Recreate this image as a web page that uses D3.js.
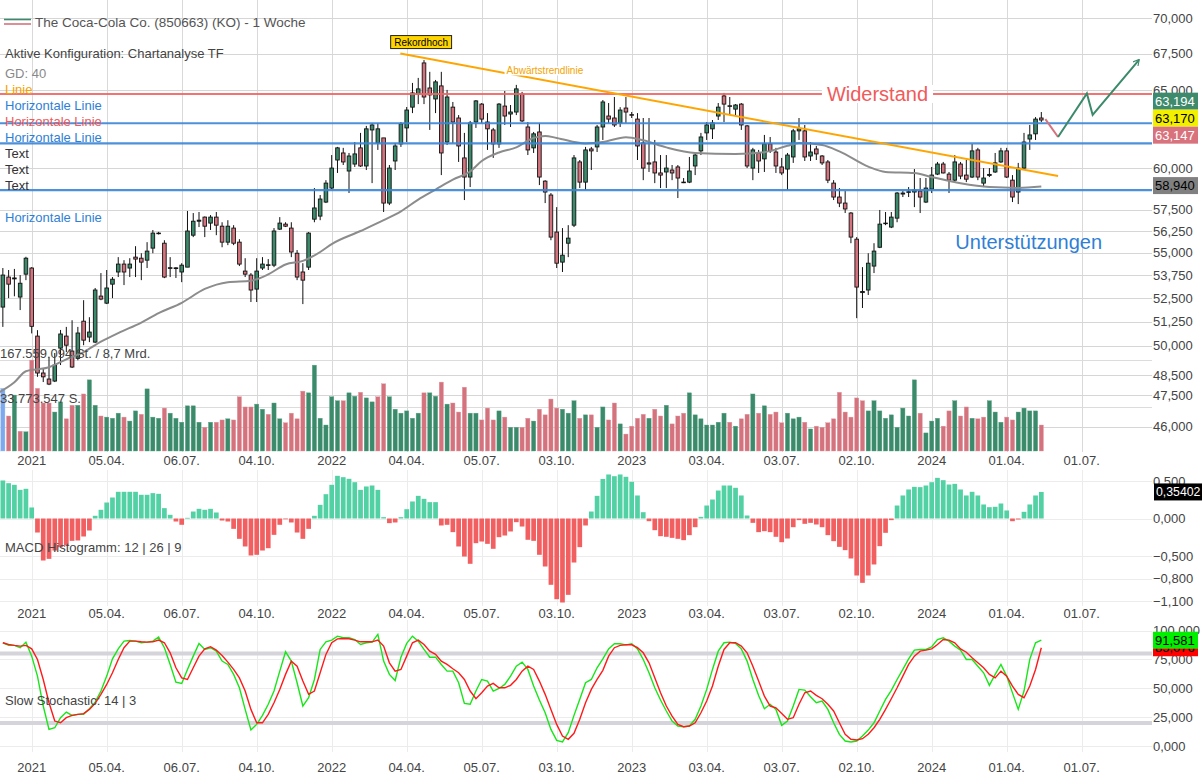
<!DOCTYPE html>
<html><head><meta charset="utf-8">
<script src="https://cdn.jsdelivr.net/npm/d3@7"></script>
<style>
html,body{margin:0;padding:0;background:#fff;}
svg{display:block;font-family:"Liberation Sans",Arial,Helvetica,sans-serif;}
</style></head><body>
<svg id="c" width="1203" height="774"></svg>
<script>
// ---------------- DATA ----------------
const firstWeek = "2020-11-30"; // weekly candles, one per Monday
const lastWeek  = "2024-05-13";

const open = [
52.02,53.65,53.55,52.56,53.81,54.15,50.49,48.61,48.31,48.21,
49.87,50.49,49.72,49.35,51.27,50.44,50.18,52.61,52.23,53.26,
53.93,54.37,54.15,54.76,54.70,54.59,55.27,56.10,55.55,54.17,
54.12,53.93,54.20,56.01,56.82,57.06,56.71,57.06,56.53,55.61,
56.42,55.61,53.98,53.76,52.99,54.15,54.31,54.31,56.36,56.65,
56.42,54.98,53.93,54.20,56.94,57.12,57.95,58.79,60.51,60.95,
59.83,60.26,61.27,60.14,62.41,61.58,61.90,57.89,60.45,61.52,
62.54,63.89,64.76,66.86,65.16,64.43,65.30,61.64,63.89,63.18,
60.64,59.46,62.92,64.09,62.92,62.41,61.52,63.96,63.44,63.57,
64.76,62.60,61.27,62.28,59.21,58.37,56.19,54.48,55.55,56.59,
60.39,59.15,61.20,61.33,62.60,63.31,63.18,62.86,63.83,63.40,
63.11,61.58,60.33,60.39,59.71,59.77,59.89,60.08,59.15,59.15,
60.14,61.08,62.22,62.48,63.31,64.63,63.98,63.76,64.09,62.67,
60.01,60.95,60.58,61.52,61.01,60.08,59.95,60.70,62.35,62.35,
60.76,61.20,60.76,60.39,59.09,58.25,57.89,57.30,55.78,52.80,
52.94,54.26,55.32,56.68,56.48,57.00,58.43,58.53,58.55,58.61,
57.95,58.73,59.64,60.26,59.64,59.27,60.26,59.58,59.46,61.14,
59.09,59.56,59.77,60.39,61.08,59.27,58.55,60.01,61.83,62.16,63.18];
const high = [
54.15,54.04,54.10,53.76,54.78,54.20,50.80,48.85,49.40,49.62,
50.81,50.97,51.32,50.97,52.39,51.48,53.05,53.87,54.04,53.65,
54.76,54.59,54.70,55.38,54.98,55.61,56.31,56.20,55.72,54.76,
54.20,54.42,57.42,57.30,57.36,57.10,57.18,57.36,56.76,56.88,
56.59,55.78,54.70,53.87,54.70,54.76,54.65,56.42,57.06,56.76,
56.76,55.16,54.42,56.19,58.79,58.37,59.27,60.82,61.33,61.27,
60.95,61.64,62.22,62.67,62.86,62.86,61.90,60.20,61.58,62.92,
63.90,65.50,65.84,67.06,66.25,65.70,66.25,65.03,64.23,63.37,
62.22,62.99,64.36,64.16,63.50,62.54,64.16,64.96,64.03,65.37,
64.90,62.92,62.28,62.86,59.27,58.49,57.65,56.42,56.59,60.82,
60.51,61.33,61.33,62.73,64.36,64.16,64.56,63.89,64.56,63.57,
63.50,63.18,63.18,61.77,60.82,60.82,60.20,60.20,59.40,60.70,
60.95,62.22,62.92,63.05,64.16,64.83,64.56,64.09,64.16,62.73,
61.27,61.14,62.09,61.96,61.27,60.64,60.95,62.48,63.18,62.73,
61.64,61.39,60.82,60.51,59.27,58.79,58.61,57.36,55.90,54.20,
54.98,55.55,57.48,57.36,57.36,58.55,58.61,58.85,59.95,59.40,
59.40,60.08,60.39,60.39,59.77,60.82,60.39,60.51,61.52,61.27,
60.01,60.01,60.95,61.27,61.27,59.58,60.33,62.22,62.73,63.24,63.57];
const low = [
50.97,52.50,52.60,51.86,53.48,50.63,48.42,48.16,48.01,48.16,
49.01,49.67,48.86,49.25,50.02,50.18,50.13,52.39,52.18,52.50,
53.65,53.21,53.65,53.65,53.48,54.15,54.98,56.05,53.59,53.65,
53.60,53.37,54.20,55.90,56.48,55.90,56.31,56.01,55.32,55.44,
55.44,54.26,53.65,52.29,52.29,54.04,54.04,54.20,56.31,56.48,
54.76,53.48,52.18,54.04,56.76,56.88,57.89,58.73,59.71,60.20,
58.49,60.08,60.08,59.89,59.09,61.14,57.36,57.77,59.89,61.33,
61.64,63.50,64.09,64.09,62.41,63.50,59.58,61.45,61.58,60.39,
58.07,58.85,62.54,62.86,61.14,60.64,61.27,62.73,62.60,63.37,
62.92,60.82,60.95,58.97,57.89,55.72,54.15,53.93,54.76,56.48,
58.79,58.67,59.89,61.01,61.77,62.86,62.60,62.60,62.86,63.18,
60.51,59.27,59.77,59.09,58.79,58.79,59.27,58.19,59.09,59.09,
59.58,60.82,61.77,61.83,63.05,62.92,63.37,63.37,62.41,60.01,
59.27,59.71,59.77,60.95,59.71,59.58,58.67,60.33,61.77,60.45,
60.45,60.51,60.20,59.09,58.07,57.65,57.30,55.55,51.43,51.97,
52.67,53.87,55.27,56.59,56.42,56.76,58.25,58.25,57.65,57.30,
57.89,58.49,59.58,59.68,58.49,59.15,59.33,59.15,59.40,59.27,
58.85,59.46,59.71,60.33,59.40,57.95,57.83,59.89,61.14,61.77,62.92];
const close = [
53.76,53.26,53.60,53.31,54.70,51.00,48.61,48.42,48.06,49.01,
50.60,50.02,48.91,50.65,50.28,50.70,52.94,52.45,53.05,53.53,
54.37,53.93,54.37,54.65,54.48,55.10,56.13,56.13,53.65,54.13,
54.16,54.31,56.25,56.82,56.88,56.53,57.06,56.59,55.61,56.53,
55.55,54.37,53.81,52.94,53.98,54.37,54.33,56.25,56.71,56.53,
55.05,53.65,53.48,56.13,57.60,58.13,59.09,60.01,61.27,60.39,
60.76,60.89,60.14,62.48,62.73,62.48,57.89,60.01,61.39,62.80,
63.70,64.83,65.10,64.56,64.70,65.57,60.95,64.56,62.92,61.39,
59.46,62.86,64.30,63.11,62.48,61.52,64.09,63.31,63.57,65.10,
62.99,61.14,62.16,59.46,58.55,55.90,54.42,54.87,55.84,60.64,
59.15,61.14,61.08,62.60,64.23,63.11,62.73,63.70,63.57,63.37,
61.39,60.01,60.26,59.71,59.58,60.01,59.71,59.40,59.12,59.83,
60.82,61.96,62.73,62.86,63.89,64.09,63.94,64.03,62.73,60.14,
61.14,60.45,61.52,61.08,60.14,59.71,60.82,62.35,62.48,60.70,
61.01,60.89,60.33,59.27,58.25,57.89,57.54,55.90,53.10,52.86,
54.42,55.10,56.65,56.71,57.06,58.49,58.49,58.57,58.67,58.25,
58.79,59.58,60.26,59.71,59.27,60.39,59.52,59.33,61.08,59.46,
59.40,59.62,60.33,61.08,59.46,58.25,60.01,61.64,62.09,63.11,63.05];
// volume in millions of shares
const volume = [
111,62,99,35,34,161,111,85,85,69,
87,57,81,81,101,126,81,62,60,58,
67,60,53,71,65,110,60,58,76,67,
58,51,80,80,51,42,51,51,55,57,
55,96,78,78,83,74,65,85,57,50,
67,57,106,103,152,58,46,96,89,89,
103,97,104,94,87,96,119,96,74,67,
71,58,67,103,103,97,122,83,85,69,
113,67,67,55,76,55,71,60,42,42,
42,58,53,74,64,92,76,74,67,89,
58,64,64,42,78,55,85,48,30,44,
58,65,58,74,62,81,48,62,67,103,
64,57,46,46,51,67,51,44,57,65,
101,67,80,65,69,50,67,57,60,51,
39,44,42,50,57,104,69,60,94,89,
71,89,71,58,64,42,76,62,126,67,
32,53,58,44,71,89,62,78,58,57,
60,89,69,51,60,55,69,76,71,71,46];
const macdHist = [
0.507,0.471,0.449,0.382,0.396,0.147,-0.187,-0.56,-0.538,-0.427,
-0.382,-0.36,-0.298,-0.293,-0.24,-0.16,0.036,0.116,0.213,0.28,
0.356,0.356,0.356,0.356,0.316,0.316,0.338,0.329,0.138,0.049,
-0.04,-0.084,0.009,0.093,0.129,0.116,0.129,0.08,-0.027,-0.04,
-0.138,-0.271,-0.373,-0.493,-0.484,-0.427,-0.396,-0.218,-0.084,-0.005,
-0.053,-0.187,-0.271,-0.138,0.036,0.182,0.324,0.449,0.569,0.551,
0.529,0.484,0.382,0.427,0.44,0.382,0.018,-0.062,-0.053,0.018,
0.124,0.227,0.302,0.262,0.218,0.218,-0.093,-0.084,-0.182,-0.373,
-0.507,-0.604,-0.329,-0.307,-0.338,-0.404,-0.249,-0.227,-0.173,-0.049,
-0.107,-0.284,-0.298,-0.484,-0.64,-0.884,-1.076,-1.12,-1.018,-0.587,
-0.382,-0.093,0.093,0.302,0.527,0.587,0.564,0.587,0.556,0.489,
0.307,0.084,-0.036,-0.156,-0.236,-0.244,-0.258,-0.271,-0.289,-0.222,
-0.116,0.022,0.173,0.253,0.373,0.44,0.44,0.409,0.307,0.04,
-0.058,-0.182,-0.169,-0.182,-0.244,-0.316,-0.267,-0.116,-0.022,-0.071,
-0.058,-0.08,-0.116,-0.222,-0.302,-0.378,-0.422,-0.533,-0.76,-0.858,
-0.76,-0.613,-0.369,-0.191,-0.022,0.173,0.307,0.387,0.422,0.418,
0.44,0.484,0.542,0.511,0.453,0.462,0.387,0.307,0.356,0.307,
0.187,0.151,0.156,0.2,0.107,-0.036,-0.013,0.089,0.187,0.307,0.354];
const stochK = [
89.4,87.1,87.1,85.1,89.9,77.8,60.5,34.6,14.4,15.8,
24.5,29.4,26.5,27.4,27.4,32.3,38.0,47.6,60.5,75.5,
84.1,90.8,91.4,90.8,89.4,89.9,90.8,94.3,85.1,70.6,
55.3,54.2,66.3,77.8,88.8,83.6,85.1,82.1,73.5,70.6,
62.0,50.4,31.7,13.9,18.7,26.5,36.1,47.6,64.8,81.6,
73.5,54.8,34.6,41.8,57.6,83.6,90.2,91.7,95.1,93.7,
93.7,92.2,87.9,89.4,89.9,96.6,73.5,62.0,56.7,76.9,
88.8,95.1,90.8,83.6,76.9,76.9,70.6,64.8,64.8,54.8,
36.9,36.1,47.6,57.6,56.2,47.6,49.8,53.3,60.5,69.1,
72.6,66.3,51.9,39.8,28.8,14.4,4.9,3.5,11.6,26.5,
40.4,54.8,57.6,67.7,75.5,84.1,88.5,88.5,87.6,88.5,
84.1,74.9,63.4,50.4,39.8,30.3,21.6,17.3,16.7,17.3,
23.1,34.6,49.0,66.3,82.1,89.4,89.9,88.8,84.1,73.5,
57.6,43.8,32.3,36.1,31.7,17.9,21.6,34.6,49.0,48.4,
42.7,37.5,38.9,31.7,20.1,10.1,4.3,3.5,4.3,8.6,
13.8,20.1,30.3,40.4,48.1,57.6,66.3,75.5,83.0,83.6,
83.6,85.9,92.2,93.7,90.8,86.5,83.0,74.9,74.9,69.1,
63.4,52.5,62.0,70.6,60.5,46.0,31.7,47.6,75.0,89.4,91.6];
const stochD = [
89.4,87.9,87.1,86.5,87.1,84.1,74.9,57.6,37.5,21.6,
20.1,24.5,26.5,27.4,28.0,31.7,36.9,44.7,53.3,63.4,
74.9,85.1,90.8,90.8,90.2,89.9,90.2,91.7,89.4,80.7,
67.7,59.0,57.6,67.7,77.8,84.1,86.0,83.0,78.4,72.6,
66.3,59.0,47.6,31.7,20.1,20.1,27.4,37.5,49.0,62.0,
73.5,69.1,56.2,44.7,47.6,63.4,79.3,89.4,92.8,93.1,
92.8,91.7,90.2,90.2,90.2,91.7,86.5,72.0,64.8,66.3,
77.8,89.4,91.7,87.9,82.1,79.3,73.5,70.6,66.9,63.4,
57.6,47.6,40.9,46.1,51.9,54.2,50.4,50.4,52.5,57.6,
64.8,69.1,66.3,56.2,44.7,31.7,18.7,8.6,5.8,11.0,
23.1,37.5,49.0,57.6,65.5,77.8,85.1,87.1,87.6,87.6,
85.1,80.7,72.0,59.0,46.1,34.6,25.9,18.7,16.7,17.3,
20.1,28.8,38.9,51.9,69.1,83.6,89.4,89.4,86.5,80.7,
69.1,56.2,43.2,34.6,33.1,28.2,23.1,24.5,36.1,46.1,
47.6,43.8,40.9,36.1,30.3,20.1,10.1,5.8,5.2,6.3,
10.1,15.8,23.1,31.7,40.9,50.4,60.5,70.6,77.8,82.1,
83.0,84.1,87.9,92.2,91.7,89.4,84.1,81.2,76.4,72.0,
67.7,62.0,59.0,64.8,60.5,51.9,44.7,41.8,51.9,66.3,85.1];
// 40-week moving average (GD 40), sampled: week offset from firstWeek, value
const smaWeek  = [-1,2,4,8,11,14,17,20,24,27,31,35,39,43,46,49,52,55,57,62,66,69,72,75,78,81,83,86,89,92,94,96,101,104,108,111,115,120,127,132,136,138,142,145,150,153,158,161,166,171,176,180];
const smaValue = [47.6,48.15,48.7,48.9,49.3,49.67,50.2,50.65,51.2,51.7,52.25,53.0,53.37,53.45,53.8,54.35,54.55,55.05,55.5,56.25,56.88,57.4,58.1,58.7,59.3,59.8,60.45,60.98,61.3,61.9,62.03,61.9,61.55,61.64,61.95,61.75,61.3,60.95,60.89,61.0,61.4,61.58,61.45,61.05,60.1,59.77,59.7,59.46,59.08,58.85,58.8,58.88];

const priceTicks = [70,67.5,65,60,57.5,56.25,55,53.75,52.5,51.25,50,48.5,47.5,46];
const volumeGrid = [161,78];
const macdTicks  = [0.5,0,-0.5,-0.8,-1.1];
const stochTicks = [100,75,50,25,0];
const stochBands = [80,20];
const xTickDates  = ["2021-01-04","2021-04-05","2021-07-06","2021-10-04","2022-01-03","2022-04-04","2022-07-05","2022-10-03","2023-01-03","2023-04-03","2023-07-03","2023-10-02","2024-01-02","2024-04-01","2024-07-01"];
const xTickLabels = ["2021","05.04.","06.07.","04.10.","2022","04.04.","05.07.","03.10.","2023","03.04.","03.07.","02.10.","2024","01.04.","01.07."];

const resistanceLevel = 64.76;
const supportLevels = [62.84, 61.56, 58.66];
const trendLine = [[68.9, 67.51],[182.9, 59.52]];
const forecastDown = [[180.7, 63.11],[182.9, 61.96]];
const forecastUp = [[182.9, 61.96],[187.9, 64.80],[188.9, 63.38],[196.9, 67.06]];
const priceBoxes = [
  {v:63.194, txt:"63,194", bg:"#3d8a6c", fg:"#ffffff"},
  {v:63.170, txt:"63,170", bg:"#f2f000", fg:"#000000"},
  {v:63.147, txt:"63,147", bg:"#d8727c", fg:"#ffffff"}];
const smaBox = {v:58.940, txt:"58,940", bg:"#808080", fg:"#000000"};
const macdLast = 0.35402;
const stochLastK = 91.581, stochLastD = 85.076;

const legend = [
 {t:"Aktive Konfiguration: Chartanalyse TF", c:"#444"},
 {t:"GD: 40", c:"#888", gap:1},
 {t:"Linie", c:"#f5a300"},
 {t:"Horizontale Linie", c:"#2f7fd6"},
 {t:"Horizontale Linie", c:"#f05a5a"},
 {t:"Horizontale Linie", c:"#2f7fd6"},
 {t:"Text", c:"#333"},
 {t:"Text", c:"#333"},
 {t:"Text", c:"#333"},
 {t:"", c:"#333"},
 {t:"Horizontale Linie", c:"#2f7fd6"}];

// ---------------- SCALES ----------------
const svg = d3.select("#c");
const parse = d3.utcParse("%Y-%m-%d");
const t0 = parse(firstWeek);
const weeks = d3.utcMonday.range(t0, d3.utcDay.offset(parse(lastWeek),1));
const wk = k => new Date(t0.getTime() + k*7*864e5);
const x = d3.scaleUtc().domain([parse("2021-01-04"), parse("2024-07-01")]).range([31.7, 1081.7]);
const xk = k => x(wk(k));
const PW = 1152;
const y = d3.scaleLog().domain([46,70]).range([426.7,18.3]);
const yv = d3.scaleLinear().domain([0,170]).range([451,355]);
const ym = d3.scaleLinear().domain([-1.1,0.5]).range([601,481]);
const ys = d3.scaleLinear().domain([0,100]).range([746,630.5]);
const de = d3.formatLocale({decimal:",",thousands:".",grouping:[3],currency:["",""]});
const f3 = de.format(",.3f"), f5 = de.format(".5f");
const GREEN="#3b8a6b", RED="#d4737d";
const FONT=13;

const defs = svg.append("defs");
[["clipMain",0,0,PW,452],["clipMacd",0,468,PW,140],["clipSto",0,620,PW,134]].forEach(([id,a,b,w,h])=>{
  defs.append("clipPath").attr("id",id).append("rect").attr("x",a).attr("y",b).attr("width",w).attr("height",h);
});
defs.append("marker").attr("id","arr").attr("viewBox","0 0 10 10").attr("refX",8).attr("refY",5)
  .attr("markerWidth",7).attr("markerHeight",7).attr("orient","auto").attr("markerUnits","userSpaceOnUse")
  .append("path").attr("d","M0,0 L9,5 L0,10").attr("fill","none").attr("stroke",GREEN).attr("stroke-width",1.6);

const tickX = xTickDates.map(d=>x(d3.utcMonday.floor(parse(d))));

// ---------------- GRID ----------------
const grid = svg.append("g").attr("shape-rendering","crispEdges");
function vgrid(y1,y2,col){ grid.selectAll(null).data(tickX).join("line").attr("x1",d=>Math.round(d)+0.5).attr("x2",d=>Math.round(d)+0.5).attr("y1",y1).attr("y2",y2).attr("stroke",col); }
vgrid(0,452,"#d9d9d9"); vgrid(470,606,"#ececec"); vgrid(620,752,"#ececec");
grid.selectAll(null).data(priceTicks).join("line").attr("x1",0).attr("x2",PW).attr("y1",d=>Math.round(y(d))+0.5).attr("y2",d=>Math.round(y(d))+0.5).attr("stroke","#d6d6d6");
grid.selectAll(null).data(volumeGrid).join("line").attr("x1",0).attr("x2",PW).attr("y1",d=>Math.round(yv(d))+0.5).attr("y2",d=>Math.round(yv(d))+0.5).attr("stroke","#dcdcdc");
grid.selectAll(null).data(macdTicks).join("line").attr("x1",0).attr("x2",PW).attr("y1",d=>Math.round(ym(d))+0.5).attr("y2",d=>Math.round(ym(d))+0.5).attr("stroke","#ececec");
grid.selectAll(null).data(stochTicks).join("line").attr("x1",0).attr("x2",PW).attr("y1",d=>Math.round(ys(d))+0.5).attr("y2",d=>Math.round(ys(d))+0.5).attr("stroke","#ececec");

// ---------------- VOLUME ----------------
const main = svg.append("g").attr("clip-path","url(#clipMain)");
main.selectAll(null).data(volume).join("rect")
  .attr("x",(d,i)=>xk(i)-2.1).attr("width",4.2)
  .attr("y",d=>yv(d)).attr("height",d=>yv(0)-yv(d))
  .attr("fill",(d,i)=> i===0 ? "#7ea9ee" : (close[i]>=close[i-1]? GREEN : RED))
  .attr("stroke",(d,i)=> i===0 ? "#9fc0f3" : (close[i]>=close[i-1]? "#5aa486" : "#e09aa2")).attr("stroke-width",0.4);
svg.append("text").attr("x",0).attr("y",353).attr("dy","0.35em").attr("font-size",FONT).attr("fill","#444").text("167.559.094 St. / 8,7 Mrd.");
svg.append("text").attr("x",0).attr("y",398).attr("dy","0.35em").attr("font-size",FONT).attr("fill","#444").text("33.773.547 S.");

// ---------------- LEGEND ----------------
svg.append("line").attr("x1",4).attr("x2",31).attr("y1",19.5).attr("y2",19.5).attr("stroke",GREEN).attr("stroke-width",1.6);
svg.append("line").attr("x1",4).attr("x2",31).attr("y1",24).attr("y2",24).attr("stroke",RED).attr("stroke-width",1.6);
svg.append("text").attr("x",35).attr("y",22).attr("dy","0.35em").attr("font-size",FONT+0.5).attr("fill","#555").text("The Coca-Cola Co. (850663) (KO) - 1 Woche");
let ly = 53;
legend.forEach((d,i)=>{
  if(i===1) ly = 73; else if(i>1) ly += 16;
  svg.append("text").attr("x",5).attr("y",ly).attr("dy","0.35em").attr("font-size",FONT).attr("fill",d.c).text(d.t);
});

// ---------------- CANDLES ----------------
const cg = main.append("g");
cg.selectAll("line.w").data(close).join("line").attr("class","w")
  .attr("x1",(d,i)=>xk(i)).attr("x2",(d,i)=>xk(i))
  .attr("y1",(d,i)=>y(high[i])).attr("y2",(d,i)=>y(low[i])).attr("stroke","#111").attr("stroke-width",1);
cg.selectAll("rect.b").data(close).join("rect").attr("class","b")
  .attr("x",(d,i)=>xk(i)-1.8).attr("width",3.6)
  .attr("y",(d,i)=>y(Math.max(open[i],d)))
  .attr("height",(d,i)=>Math.max(0.6, Math.abs(y(open[i])-y(d))))
  .attr("fill",(d,i)=> d>=open[i]? GREEN : RED).attr("stroke","#111").attr("stroke-width",0.9);

// ---------------- SMA ----------------
main.append("path").datum(smaWeek.map((k,i)=>[k,smaValue[i]]))
  .attr("d", d3.line().x(d=>xk(d[0])).y(d=>y(d[1])).curve(d3.curveMonotoneX))
  .attr("fill","none").attr("stroke","#8c8c8c").attr("stroke-width",2);

// ---------------- HORIZONTAL LINES ----------------
const wid = {k:151.6, txt:"Widerstand"};
main.append("line").attr("x1",0).attr("x2",PW).attr("y1",y(resistanceLevel)).attr("y2",y(resistanceLevel)).attr("stroke","#f26464").attr("stroke-width",2).attr("opacity",0.9);
main.selectAll("line.s").data(supportLevels).join("line").attr("class","s")
  .attr("x1",0).attr("x2",PW).attr("y1",d=>y(d)).attr("y2",d=>y(d)).attr("stroke","#3a86d8").attr("stroke-width",2.2).attr("opacity",0.9);

// trend line
main.append("line").attr("x1",xk(trendLine[0][0])).attr("y1",y(trendLine[0][1])).attr("x2",xk(trendLine[1][0])).attr("y2",y(trendLine[1][1]))
  .attr("stroke","#ffa500").attr("stroke-width",2);
const tl = svg.append("g");
const tlt = tl.append("text").attr("x",xk(87.3)).attr("y",y(66.31)).attr("dy","0.35em").attr("font-size",10).attr("fill","#f5a300").text("Abwärtstrendlinie");
{ const bb = tlt.node().getBBox(); tl.insert("rect","text").attr("x",bb.x-2).attr("y",bb.y+1).attr("width",bb.width+3).attr("height",bb.height-2).attr("fill","#fff"); }

// Widerstand
const wg = svg.append("g");
const wt = wg.append("text").attr("x",xk(wid.k)).attr("y",y(resistanceLevel)).attr("dy","0.35em").attr("text-anchor","middle").attr("font-size",20).attr("fill","#f05a5a").text(wid.txt);
{ const bb = wt.node().getBBox(); wg.insert("rect","text").attr("x",bb.x-5).attr("y",bb.y+2).attr("width",bb.width+10).attr("height",bb.height-4).attr("fill","#fff"); }
svg.append("text").attr("x",xk(165.1)).attr("y",y(55.61)).attr("dy","0.35em").attr("font-size",20).attr("fill","#2f7fd6").text("Unterstützungen");

// Rekordhoch box
const rg = svg.append("g");
const rt = rg.append("text").attr("x",xk(72.5)).attr("y",y(68.31)).attr("dy","0.35em").attr("text-anchor","middle").attr("font-size",10).attr("fill","#000").text("Rekordhoch");
{ const bb = rt.node().getBBox(); rg.insert("rect","text").attr("x",bb.x-3.5).attr("y",bb.y-1).attr("width",bb.width+7).attr("height",bb.height+2).attr("fill","#ffd500").attr("stroke","#222").attr("stroke-width",1); }

// forecast arrow
const fl = d3.line().x(d=>xk(d[0])).y(d=>y(d[1]));
svg.append("path").attr("d",fl(forecastDown)).attr("fill","none").attr("stroke",RED).attr("stroke-width",2);
svg.append("path").attr("d",fl(forecastUp)).attr("fill","none").attr("stroke",GREEN).attr("stroke-width",2).attr("marker-end","url(#arr)");

// ---------------- RIGHT AXIS ----------------
const LX = 1153;
svg.selectAll("text.pt").data(priceTicks).join("text").attr("class","pt")
  .attr("x",LX).attr("y",d=>y(d)).attr("dy","0.35em").attr("font-size",FONT).attr("fill","#444").text(d=>f3(d));
function box(yc, txt, bg, fg, w, fs, x0){
  const g = svg.append("g");
  g.append("rect").attr("x",x0||LX).attr("y",yc-8.5).attr("width",w||45).attr("height",17).attr("fill",bg);
  g.append("text").attr("x",(x0||LX)+2).attr("y",yc).attr("dy","0.36em").attr("font-size",fs||FONT).attr("fill",fg).text(txt);
}
{ // stack overlapping price boxes around their mean position
  const ys0 = priceBoxes.map(d=>y(d.v)); const m = d3.mean(ys0); const n = priceBoxes.length;
  priceBoxes.forEach((d,i)=> box(m + (i-(n-1)/2)*17, d.txt, d.bg, d.fg));
}
box(y(smaBox.v), smaBox.txt, smaBox.bg, smaBox.fg);

// ---------------- X AXIS LABELS ----------------
[460, 613, 767].forEach(yy=>{
  svg.selectAll(null).data(xTickLabels).join("text").attr("x",(d,i)=>tickX[i]).attr("y",yy).attr("dy","0.35em")
    .attr("text-anchor","middle").attr("font-size",FONT).attr("fill","#444").text(d=>d);
});

// ---------------- MACD ----------------
const mg = svg.append("g").attr("clip-path","url(#clipMacd)");
mg.selectAll("rect").data(macdHist).join("rect")
  .attr("x",(d,i)=>xk(i)-2.35).attr("width",4.7)
  .attr("y",d=>ym(Math.max(0,d))).attr("height",d=>Math.max(0.8,Math.abs(ym(d)-ym(0))))
  .attr("fill",d=> d>=0? "#52d1a4" : "#f25f60");
svg.append("text").attr("x",5).attr("y",547).attr("dy","0.35em").attr("font-size",FONT).attr("fill","#444").text("MACD Histogramm: 12 | 26 | 9");
svg.selectAll("text.mt").data(macdTicks).join("text").attr("class","mt").attr("x",LX).attr("y",d=>ym(d)).attr("dy","0.35em").attr("font-size",FONT).attr("fill","#444").text(d=>f3(d));
box(ym(macdLast), f5(macdLast), "#000", "#fff", 48, 12.3, 1154);

// ---------------- STOCHASTIC ----------------
const sg = svg.append("g").attr("clip-path","url(#clipSto)");
sg.selectAll("line.band").data(stochBands).join("line").attr("class","band").attr("x1",0).attr("x2",PW).attr("y1",d=>ys(d)).attr("y2",d=>ys(d)).attr("stroke","#d4d4da").attr("stroke-width",4);
const sl = d3.line().x((d,i)=>xk(i)).y(d=>ys(d));
sg.append("path").attr("d",sl(stochK)).attr("fill","none").attr("stroke","#19e619").attr("stroke-width",1.4);
sg.append("path").attr("d",sl(stochD)).attr("fill","none").attr("stroke","#ff1a1a").attr("stroke-width",1.4);
svg.append("text").attr("x",5).attr("y",700).attr("dy","0.35em").attr("font-size",FONT).attr("fill","#444").text("Slow Stochastic: 14 | 3");
svg.selectAll("text.st").data(stochTicks).join("text").attr("class","st").attr("x",LX).attr("y",d=>ys(d)).attr("dy","0.35em").attr("font-size",FONT).attr("fill","#444").text(d=>f3(d));
box(ys(stochLastD), f3(stochLastD), "#ff0000", "#000");
box(ys(stochLastK), f3(stochLastK), "#00f000", "#000");
</script>
</body></html>
